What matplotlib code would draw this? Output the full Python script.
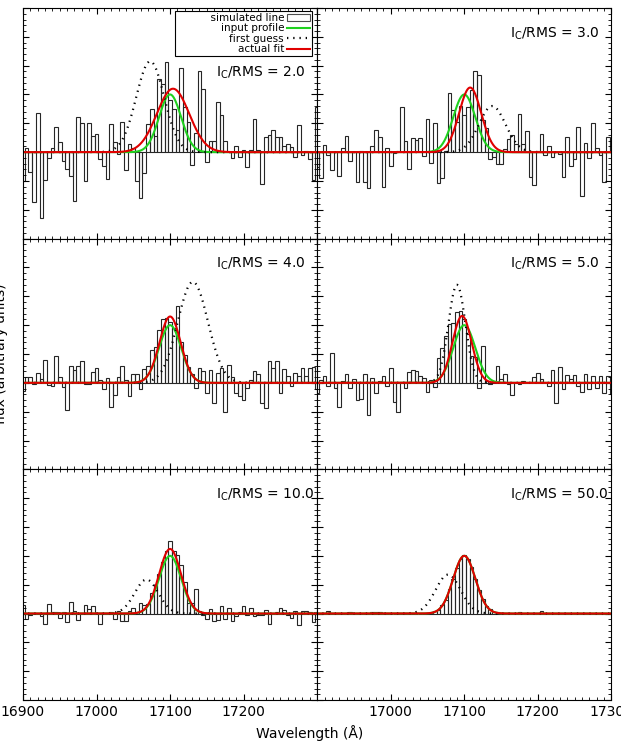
import numpy as np
import matplotlib
matplotlib.use("Agg")
import matplotlib.pyplot as plt
from matplotlib.patches import Patch
from matplotlib.lines import Line2D
from matplotlib.ticker import MultipleLocator, FixedLocator

# wavelength bins (centres), 5 A wide
wave = np.arange(16900, 17305, 5)

# signal-to-noise of each panel
ic_rms = [2.0, 3.0, 4.0, 5.0, 10.0, 50.0]

# simulated spectra, one list per panel
flux_2 = [-1.00, 0.14, -0.69, -1.72, 1.37, -2.28, -0.98, -0.21, 0.14, 0.86,
          0.34, -0.30, -0.59, -0.84, -1.68, 1.23, 1.00, -0.99, 1.02, 0.57,
          0.63, -0.24, -0.49, -0.93, 0.98, 0.34, -0.05, 1.03, -0.61, 0.29,
          0.14, -0.99, -1.59, -0.72, 0.98, 1.48, 0.57, 2.55, 2.38, 3.13,
          1.80, 1.50, 0.77, 2.93, 1.57, 1.06, -0.46, 0.68, 2.80, 2.20,
          -0.34, 0.37, 0.40, 1.75, 1.29, 0.37, 0.02, -0.20, 0.22, -0.17,
          0.08, -0.50, 0.08, 1.15, 0.08, -1.10, 0.54, 0.60, 0.77, 0.52,
          0.54, 0.20, 0.29, 0.17, -0.17, 0.94, -0.10, 0.04, -0.23, -0.95,
          1.57]
flux_3 = [-0.50, -0.90, 0.25, -0.11, -0.61, 0.02, -0.82, 0.14, 0.57, -0.30,
          0.02, -1.03, 0.05, -1.05, -1.26, 0.22, 0.77, 0.54, -1.20, 0.14,
          -0.47, -0.03, 0.03, 1.55, 0.37, -0.59, 0.50, 0.43, 0.48, -0.15,
          1.15, -0.36, 1.02, -1.07, -0.90, 0.03, 2.06, 1.46, 1.06, 1.60,
          1.30, 1.57, 2.15, 2.82, 2.67, 1.10, 0.83, -0.24, -0.17, -0.40,
          -0.40, 0.10, 0.47, 0.60, 0.30, 1.34, 0.30, 0.75, -0.87, -1.15,
          0.05, 0.62, -0.10, 0.22, -0.18, 0.00, -0.05, -0.86, 0.54, -0.49,
          -0.23, 0.86, -1.53, 0.31, -0.20, 1.00, 0.14, -0.10, -1.03, 0.54,
          0.50]
flux_4 = [-0.30, 0.20, 0.20, -0.05, 0.35, 0.12, 0.80, -0.06, -0.10, 0.92,
          0.20, -0.14, -0.95, 0.57, 0.43, 0.57, 0.75, -0.03, -0.05, 0.38,
          0.50, 0.10, -0.20, 0.16, -0.83, -0.43, 0.20, 0.57, 0.10, -0.46,
          0.32, 0.32, -0.20, 0.49, 0.57, 1.15, 1.26, 1.83, 2.20, 2.26,
          2.10, 1.90, 2.67, 1.40, 0.95, 0.55, 0.30, -0.17, 0.50, 0.40,
          -0.35, 0.45, -0.70, 0.35, 0.50, -1.00, 0.63, 0.20, -0.35, -0.45,
          -0.60, -0.17, 0.10, 0.40, 0.32, -0.70, -0.86, 0.75, 0.52, 0.75,
          -0.35, 0.47, 0.23, -0.12, 0.35, 0.23, 0.52, 0.23, 0.52, 0.55,
          -0.20]
flux_5 = [-0.35, 0.10, 0.25, -0.10, 1.03, -0.17, -0.83, 0.05, 0.29, -0.17,
          0.12, -0.60, -0.55, 0.31, -1.10, 0.17, -0.35, 0.08, 0.23, -0.12,
          0.50, -0.67, -1.00, 0.02, -0.17, 0.37, 0.46, 0.40, 0.23, 0.17,
          -0.32, 0.09, -0.14, 0.86, 1.20, 1.63, 2.03, 2.06, 2.47, 2.50,
          2.20, 1.69, 0.92, 0.90, -0.17, 1.29, 0.05, -0.05, 0.03, 0.60,
          0.14, 0.32, -0.05, -0.43, 0.00, -0.03, 0.05, -0.02, 0.03, 0.20,
          0.35, 0.12, 0.00, -0.10, 0.46, -0.70, 0.55, -0.23, 0.27, 0.12,
          0.27, -0.12, -0.32, 0.32, -0.20, 0.23, -0.17, 0.23, -0.35, 0.23,
          -0.40]
flux_10 = [0.30, -0.20, -0.05, 0.02, -0.03, -0.10, -0.35, 0.32, 0.06, 0.05,
           -0.15, 0.05, -0.29, 0.40, 0.10, -0.23, 0.00, 0.29, 0.15, 0.25,
           -0.03, -0.37, 0.03, 0.02, 0.05, -0.20, 0.08, -0.26, -0.26, 0.09,
           0.20, 0.00, 0.38, 0.29, 0.32, 0.72, 1.00, 1.38, 1.78, 2.18,
           2.50, 2.18, 2.03, 1.67, 1.10, 0.38, 0.35, 0.84, 0.08, -0.05,
           -0.20, 0.15, -0.25, -0.22, 0.25, -0.20, 0.20, -0.25, -0.10, 0.05,
           0.25, -0.05, 0.20, -0.10, -0.05, -0.05, 0.12, -0.35, 0.00, 0.05,
           0.18, 0.12, -0.05, -0.15, 0.08, -0.40, 0.10, 0.10, 0.06, -0.30,
           0.05]
flux_50 = [-0.01, 0.02, -0.02, 0.08, 0.01, -0.02, 0.02, -0.01, 0.01, 0.05,
           -0.02, 0.01, -0.01, 0.02, -0.02, 0.05, 0.05, 0.06, -0.01, 0.02,
           0.00, -0.02, 0.01, -0.01, 0.02, -0.02, 0.01, 0.00, -0.01, 0.02,
           0.01, 0.02, 0.08, 0.12, 0.30, 0.48, 0.84, 1.20, 1.58, 1.90,
           2.02, 1.88, 1.62, 1.20, 0.80, 0.52, 0.25, 0.14, 0.05, 0.04,
           0.01, -0.02, 0.01, -0.01, 0.02, 0.04, -0.01, 0.01, -0.02, 0.01,
           0.02, 0.08, -0.01, 0.01, -0.02, 0.01, 0.02, -0.01, 0.01, -0.02,
           0.01, 0.02, -0.01, 0.01, -0.02, 0.02, -0.01, 0.01, 0.02, -0.01,
           0.01]
fluxes = [flux_2, flux_3, flux_4, flux_5, flux_10, flux_50]

# gaussian parameters (amplitude, centre, sigma) of the three profiles
input_prof = [(2.0, 17100, 15)] * 6
first_guess = [(3.15, 17073, 19), (1.60, 17138, 18), (3.50, 17131, 20.5),
               (3.40, 17090, 11.5), (1.18, 17068, 16), (1.35, 17078, 17)]
actual_fit = [(2.20, 17104, 22), (2.24, 17108, 15), (2.30, 17100, 14.5),
              (2.32, 17097, 13), (2.24, 17100, 15), (2.00, 17100, 15)]


def gauss(x, p):
    a, c, s = p
    return a * np.exp(-(x - c) ** 2 / (2 * s ** 2))


green = "#1fd11f"
red = "#e00000"
dots = (0, (0.6, 2.2))

fig, axes = plt.subplots(3, 2, figsize=(6.21, 7.52), dpi=100)
fig.subplots_adjust(left=0.037, right=0.9845, top=0.9894, bottom=0.0691,
                    wspace=0, hspace=0)

xx = np.linspace(16890, 17310, 1000)

for i, ax in enumerate(axes.flat):
    ax.bar(wave, fluxes[i], width=5, fill=False, edgecolor="0.15",
           linewidth=0.8)
    ax.plot(xx, gauss(xx, input_prof[i]), color=green, lw=1.5)
    ax.plot(xx, gauss(xx, first_guess[i]), color="black", lw=1.6,
            linestyle=dots)
    ax.plot(xx, gauss(xx, actual_fit[i]), color=red, lw=1.5)

    ax.set_xlim(16900, 17300)
    ax.set_ylim(-3, 5)
    ax.xaxis.set_major_locator(MultipleLocator(100))
    ax.xaxis.set_minor_locator(MultipleLocator(10))
    ax.yaxis.set_major_locator(MultipleLocator(1))
    ax.yaxis.set_minor_locator(MultipleLocator(0.2))
    ax.tick_params(which="both", direction="in", top=True, right=True,
                   labelsize=10)
    ax.tick_params(which="major", length=4, width=0.8)
    ax.tick_params(which="minor", length=2, width=0.6)
    ax.set_yticklabels([])

    ax.text(0.655, 0.89 if i > 0 else 0.72,
            r"I$_\mathrm{C}$/RMS = %.1f" % ic_rms[i],
            transform=ax.transAxes, ha="left", va="center", fontsize=10)

    if i < 4:
        ax.set_xticklabels([])

# bottom row tick labels, the outer ends dropped like the original
axes[2, 0].xaxis.set_major_locator(FixedLocator([16900, 17000, 17100, 17200]))
axes[2, 1].xaxis.set_major_locator(FixedLocator([17000, 17100, 17200, 17300]))

handles = [Patch(facecolor="white", edgecolor="0.3", lw=0.8),
           Line2D([], [], color=green, lw=1.5),
           Line2D([], [], color="black", lw=1.6, linestyle=dots),
           Line2D([], [], color=red, lw=1.5)]
# leading spaces widen the box to the left like in the original
labels = ["          simulated line", "input profile", "first guess",
          "actual fit"]
leg = axes[0, 0].legend(handles, labels, loc="upper right",
                        bbox_to_anchor=(0.983, 0.988), borderaxespad=0,
                        markerfirst=False, fontsize=7.5, labelspacing=0.05,
                        borderpad=0.2, handlelength=2.2, handletextpad=0.3,
                        fancybox=False, framealpha=1, edgecolor="black")
leg.get_frame().set_linewidth(0.8)

fig.text(0.499, 0.025, "Wavelength (Å)", ha="center", va="center",
         fontsize=10)
fig.text(0.002, 0.529, "flux (arbitrary units)", rotation=90, ha="center",
         va="center", fontsize=10)

fig.savefig("out.png", dpi=100)
